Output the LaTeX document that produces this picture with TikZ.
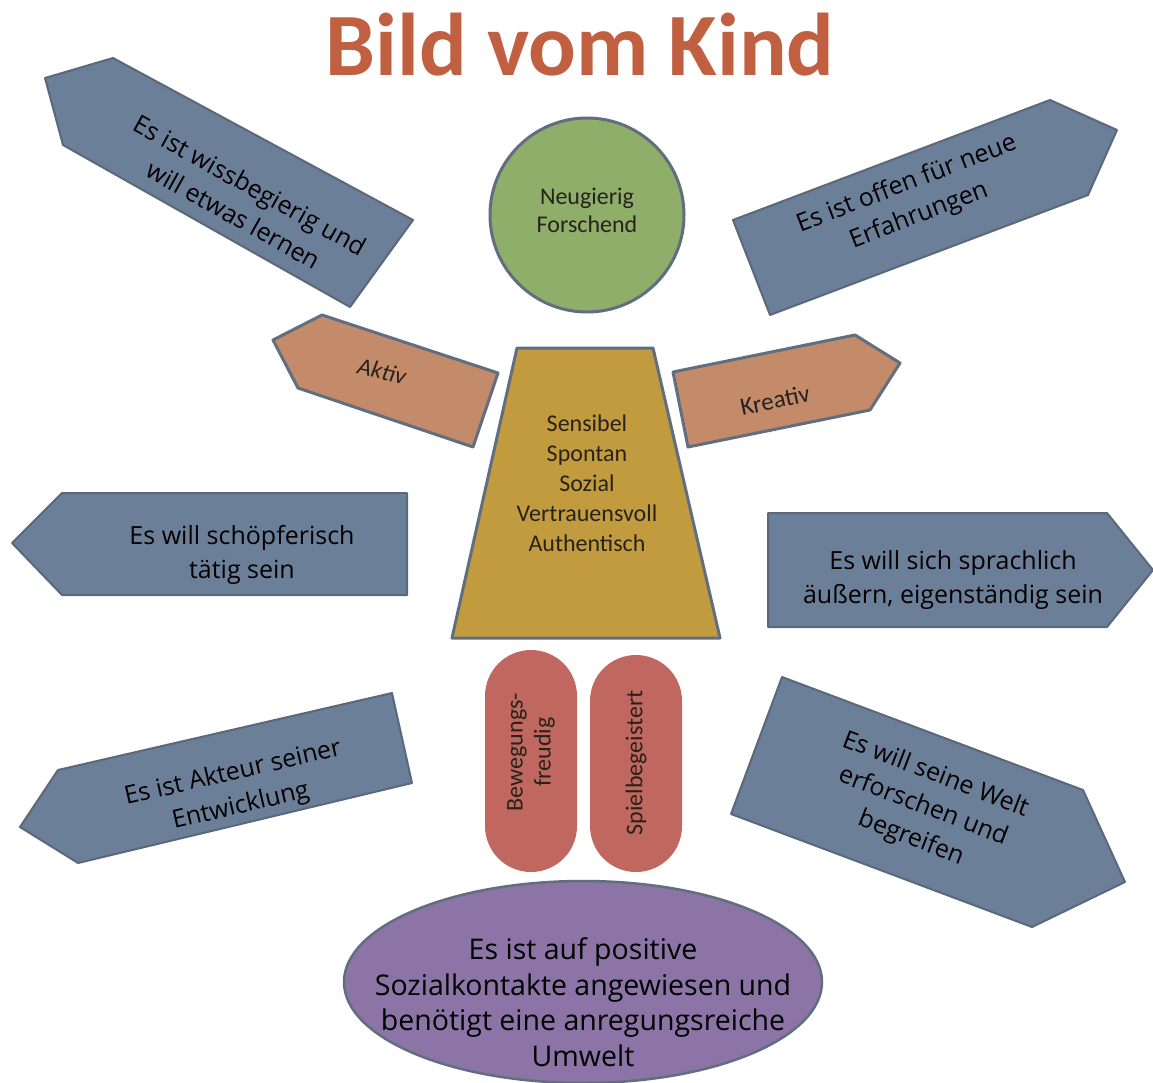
\documentclass[tikz,border=0pt]{standalone}
\usepackage{fontspec}
\setmainfont{Open Sans}
\newfontfamily\calfont{Carlito}
\usetikzlibrary{shapes.geometric}
\definecolor{titlec}{RGB}{192,96,64}
\definecolor{bluef}{RGB}{108,127,153}
\definecolor{bluel}{RGB}{90,104,122}
\definecolor{edgec}{RGB}{96,110,128}
\definecolor{greenf}{RGB}{143,174,105}
\definecolor{goldf}{RGB}{195,155,63}
\definecolor{armf}{RGB}{196,139,107}
\definecolor{legf}{RGB}{192,103,95}
\definecolor{purplef}{RGB}{141,116,166}
\definecolor{txtd}{RGB}{40,34,28}
\tikzset{
  bluebox/.style={fill=bluef, draw=bluel, line width=2pt, line join=round},
  armbox/.style={fill=armf, draw=edgec, line width=3pt, line join=round},
  comic/.style={align=center, text=black, font=\fontsize{25}{34}\selectfont, inner sep=0pt},
  calt/.style={align=center, text=txtd, font=\calfont\fontsize{24}{30}\selectfont, inner sep=0pt},
}
\begin{document}
\begin{tikzpicture}[x=1pt,y=-1pt]
\useasboundingbox (0,0) rectangle (1153,1082);
\fill[white] (0,0) rectangle (1153,1082);
% title
\node[text=titlec, font=\calfont\bfseries\fontsize{89}{95}\selectfont, anchor=base, inner sep=0pt] (title) at (580,75) {Bild vom Kind};
% head
\draw[fill=greenf, draw=edgec, line width=3pt] (587,215) circle [radius=97pt];
\node[calt, font=\calfont\fontsize{24}{28}\selectfont] (head) at (587,210) {Neugierig\\Forschend};
% body
\draw[fill=goldf, draw=edgec, line width=3pt, line join=round] (517,348) -- (653,348) -- (720,638) -- (452,638) -- cycle;
\node[calt] (body) at (587,483) {Sensibel\\Spontan\\Sozial\\Vertrauensvoll\\Authentisch};
% arms
\draw[armbox] (273,340) -- (322,315) -- (498,373) -- (473,447) -- (298,388) -- cycle;
\node[calt, font=\calfont\fontsize{24}{28}\selectfont\itshape, rotate=-13] (aktiv) at (382,371) {Aktiv};
\draw[armbox] (673,372) -- (855,335) -- (900,363) -- (870,410) -- (688,447) -- cycle;
\node[calt, font=\calfont\fontsize{25}{28}\selectfont, rotate=12] (kreativ) at (775,400) {Kreativ};
% legs
\fill[legf, rounded corners=46pt] (485,650) rectangle (577,872);
\fill[legf, rounded corners=46pt] (590,655) rectangle (682,872);
\node[calt, rotate=90, font=\calfont\fontsize{24}{28}\selectfont] (leg1) at (531,752) {Bewegungs-\\freudig};
\node[calt, rotate=90, font=\calfont\fontsize{24}{28}\selectfont] (leg2) at (636,763) {Spielbegeistert};
% bottom ellipse
\draw[fill=purplef, draw=edgec, line width=2.5pt] (583,982) ellipse [x radius=239pt, y radius=101pt];
\node[comic, font=\fontsize{28.5}{35.5}\selectfont] (env) at (583,1002) {Es ist auf positive\\Sozialkontakte angewiesen und\\benötigt eine anregungsreiche\\Umwelt};
% blue arrows
\draw[bluebox] (45,78) -- (113,58) -- (413,220) -- (350,307) -- (63,145) -- cycle;
\node[comic, rotate=-29] (a1) at (242,200) {Es ist wissbegierig und\\will etwas lernen};
\draw[bluebox] (733,220) -- (1050,100) -- (1117,130) -- (1088,195) -- (770,315) -- cycle;
\node[comic, rotate=21] (a2) at (913,200) {Es ist offen für neue\\Erfahrungen};
\draw[bluebox] (12,543) -- (62,493) -- (407,493) -- (407,595) -- (62,595) -- cycle;
\node[comic] (a3) at (242,555) {Es will schöpferisch\\tätig sein};
\draw[bluebox] (768,513) -- (1107,513) -- (1153,570) -- (1107,627) -- (768,627) -- cycle;
\node[comic] (a4) at (953,580) {Es will sich sprachlich\\äußern, eigenständig sein};
\draw[bluebox] (20,827) -- (58,770) -- (392,693) -- (412,783) -- (78,863) -- cycle;
\node[comic, rotate=13] (a5) at (237,790) {Es ist Akteur seiner\\Entwicklung};
\draw[bluebox] (782,677) -- (1083,790) -- (1125,882) -- (1032,927) -- (731,814) -- cycle;
\node[comic, rotate=-21] (a6) at (923,807) {Es will seine Welt\\erforschen und\\begreifen};
\end{tikzpicture}
\end{document}
